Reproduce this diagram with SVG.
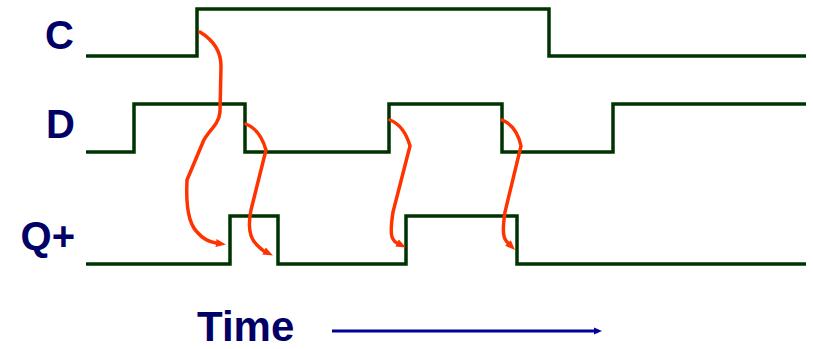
<svg xmlns="http://www.w3.org/2000/svg" width="813" height="349" viewBox="0 0 813 349">
<style>
.wave{fill:none;stroke:#003300;stroke-width:3.5;stroke-linejoin:miter}
.lbl{font-family:"Liberation Sans",Arial,sans-serif;font-weight:bold;font-size:40px;fill:#000066}
.cause{fill:none;stroke:#ff3300;stroke-width:3.5;stroke-linecap:round}
.time{stroke:#000099;stroke-width:3.2}
</style>
<defs>
<marker id="rh" markerWidth="10" markerHeight="8" refX="0" refY="4" orient="auto" markerUnits="userSpaceOnUse">
<path d="M0,0 L10,4 L0,8 Z" fill="#ff3300"/>
</marker>
<marker id="bh" markerWidth="8" markerHeight="8" refX="4" refY="4" orient="auto" markerUnits="userSpaceOnUse">
<path d="M0,0.5 L8,4 L0,7.5 Z" fill="#000099"/>
</marker>
</defs>
<g id="label-C"><text class="lbl" x="74" y="49" text-anchor="end">C</text></g>
<g id="label-D"><text class="lbl" x="75" y="138" text-anchor="end">D</text></g>
<g id="label-Q"><text class="lbl" x="75" y="250" text-anchor="end">Q+</text></g>
<g id="wave-C"><path class="wave" d="M86,56 H197 V9 H549 V56 H806"/></g>
<g id="wave-D"><path class="wave" d="M86,152 H134 V104 H245 V152 H389 V104 H502 V152 H613 V104 H806"/></g>
<g id="wave-Q"><path class="wave" d="M86,264 H230 V216 H278 V264 H406 V216 H517 V264 H806"/></g>
<g id="connectors">
<path class="cause" marker-end="url(#rh)" d="M200,32 C213,40 221,50 221,66 L220,112 C219,125 207,132 203,142 L187,180 C186,200 187,222 197,232 C203,239 209,242 216,243"/>
<path class="cause" marker-end="url(#rh)" d="M246,124 C256,128 262,136 266,150 L251,210 C248,225 249,238 257,245 C260,248 262,250 264,251"/>
<path class="cause" marker-end="url(#rh)" d="M390,120 C400,124 406,132 410,146 L393,212 C391,225 390,235 393,239 C394,241 395,242 397,243"/>
<path class="cause" marker-end="url(#rh)" d="M502,120 C512,124 518,132 521,146 L505,212 C503,225 503,235 505,239 C506,241 507,242 508,243"/>
</g>
<g id="time-axis">
<text class="lbl" x="197" y="341" font-size="42" style="font-size:42px">Time</text>
<line class="time" x1="332" y1="331" x2="598" y2="331" marker-end="url(#bh)"/>
</g>
</svg>
